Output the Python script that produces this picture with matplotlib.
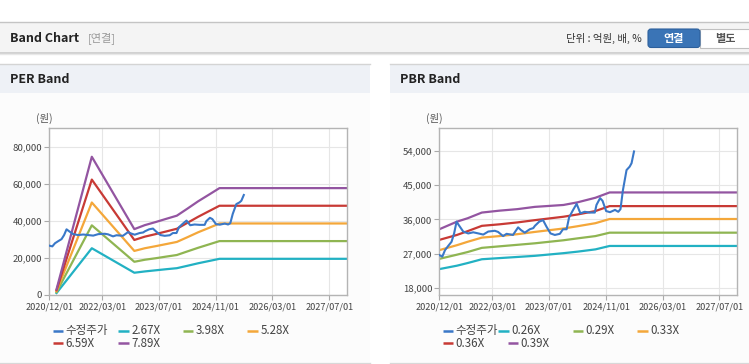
import matplotlib
matplotlib.use("Agg")
import matplotlib.pyplot as plt
import matplotlib.dates as mdates
from matplotlib.patches import Rectangle, FancyBboxPatch
import pandas as pd

plt.rcParams['font.family'] = ['Noto Sans CJK KR', 'DejaVu Sans']

# ------------------- DATA -------------------
# adjusted share price (수정주가), shared by both charts
price_dates = [
    "2020-12-01", "2020-12-27", "2021-01-19", "2021-02-15", "2021-03-16", "2021-04-07",
    "2021-04-28", "2021-05-17", "2021-06-24", "2021-08-06", "2021-09-18", "2021-11-01",
    "2021-12-13", "2022-01-25", "2022-03-22", "2022-04-19", "2022-06-01", "2022-07-01",
    "2022-08-25", "2022-10-08", "2022-11-01", "2022-12-04", "2023-01-16", "2023-02-15",
    "2023-03-01", "2023-04-07", "2023-05-10", "2023-06-08", "2023-07-13", "2023-08-19",
    "2023-10-01", "2023-10-28", "2023-11-28", "2023-12-19", "2024-01-19", "2024-02-22",
    "2024-03-25", "2024-05-01", "2024-06-14", "2024-07-27", "2024-08-10", "2024-09-10",
    "2024-10-01", "2024-11-01", "2024-12-04", "2025-01-16", "2025-02-13", "2025-03-04",
    "2025-03-25", "2025-04-25", "2025-05-22", "2025-06-07", "2025-06-28",
]
price = [
    26600, 26200, 27900, 29000, 30100, 32300,
    35400, 34500, 32800, 32300, 32600, 32300,
    32000, 32800, 33000, 32700, 31600, 32200,
    31900, 33900, 33200, 32500, 33400, 33700,
    34300, 35400, 35800, 34100, 32300, 31900,
    32200, 33400, 33400, 36500, 38300, 40100,
    37600, 38000, 37800, 37800, 39800, 41600,
    40900, 38200, 37900, 38500, 38000, 38700,
    43700, 49000, 49900, 50800, 53900,
]

# PER band lines
per_dates = ["2021-02-01", "2021-12-01", "2022-12-01", "2023-03-01", "2023-06-01", "2023-09-01",
             "2023-12-01", "2024-03-01", "2024-06-01", "2024-09-01", "2024-12-01", "2027-12-01"]
per_267 = [1040, 25200, 12000, 12700, 13300, 13900, 14450, 15750, 17100, 18300, 19500, 19500]
per_398 = [1550, 37550, 17900, 19000, 19800, 20700, 21550, 23500, 25450, 27250, 29050, 29050]
per_528 = [2060, 49850, 23750, 25200, 26300, 27450, 28600, 31150, 33800, 36150, 38550, 38550]
per_659 = [2570, 62200, 29650, 31450, 32800, 34250, 35700, 38900, 42150, 45150, 48100, 48100]
per_789 = [3080, 74500, 35500, 37650, 39300, 41050, 42750, 46550, 50500, 54050, 57600, 57600]
per_labels = ["2.67X", "3.98X", "5.28X", "6.59X", "7.89X"]

# PBR band lines
pbr_dates = ["2020-12-01", "2021-05-01", "2021-08-01", "2021-12-01", "2022-05-01", "2022-10-01",
             "2023-03-01", "2023-11-01", "2024-03-01", "2024-08-01", "2024-12-01", "2027-12-01"]
pbr_026 = [22900, 23800, 24500, 25500, 25800, 26100, 26400, 27100, 27500, 28100, 29000, 29000]
pbr_029 = [25600, 26700, 27400, 28500, 28900, 29300, 29700, 30500, 31000, 31600, 32500, 32500]
pbr_033 = [27900, 29200, 30100, 31200, 31600, 32100, 32700, 33600, 34200, 35000, 36100, 36100]
pbr_036 = [30600, 31900, 32900, 34300, 34700, 35200, 35800, 36700, 37300, 38200, 39500, 39500]
pbr_039 = [33400, 35400, 36300, 37800, 38300, 38700, 39300, 39800, 40500, 41700, 43100, 43100]
pbr_labels = ["0.26X", "0.29X", "0.33X", "0.36X", "0.39X"]

x_ticks = ["2020-12-01", "2022-03-01", "2023-07-01", "2024-11-01", "2026-03-01", "2027-07-01"]
per_yticks = [0, 20000, 40000, 60000, 80000]
pbr_yticks = [18000, 27000, 36000, 45000, 54000]

# ------------------- STYLE -------------------
PRICE_COLOR = "#3a78c8"
BAND_COLORS = ["#22b1c3", "#8fb552", "#f4a73a", "#c83a35", "#9355a1"]
W, H = 749, 364


def ax_rect(left, top, right, bottom):
    return [left / W, 1 - bottom / H, (right - left) / W, (bottom - top) / H]


def draw_band_chart(fig, rect, band_dates, bands, yticks, ylim):
    ax = fig.add_axes(rect)
    ax.plot(pd.to_datetime(price_dates), price, color=PRICE_COLOR, lw=1.5, zorder=3)
    bd = pd.to_datetime(band_dates)
    for vals, c in zip(bands, BAND_COLORS):
        ax.plot(bd, vals, color=c, lw=1.6, zorder=2)

    ax.set_xlim(pd.Timestamp("2020-12-01"), pd.Timestamp("2027-12-01"))
    ax.set_ylim(*ylim)
    ax.set_xticks(pd.to_datetime(x_ticks))
    ax.xaxis.set_major_formatter(mdates.DateFormatter("%Y/%m/%d"))
    ax.set_yticks(yticks)
    ax.set_yticklabels([f"{v:,}" for v in yticks])
    ax.grid(True, color="#e6e6e6", lw=0.8, zorder=0)
    ax.set_axisbelow(True)
    for s in ax.spines.values():
        s.set_color("#b4b4b4")
        s.set_linewidth(1.0)
    ax.tick_params(axis="y", length=3.5, width=0.8, color="#aaaaaa", pad=1.5,
                   labelsize=6.9, labelcolor="#444444")
    ax.tick_params(axis="x", length=3.5, width=0.8, color="#aaaaaa", pad=2,
                   labelsize=6.6, labelcolor="#444444")
    ax.set_facecolor("white")
    return ax


def draw_legend(bg, positions, labels, colors):
    # one entry per (x, y) pixel position
    for (x, y), lab, c in zip(positions, labels, colors):
        bg.plot([x, x + 10.5], [y, y], color=c, lw=1.8, solid_capstyle="butt")
        bg.text(x + 13, y, lab, fontsize=8.3, color="#444444", va="center", ha="left")


fig = plt.figure(figsize=(W / 100, H / 100), dpi=100)

# background layer in pixel coordinates
bg = fig.add_axes([0, 0, 1, 1])
bg.set_xlim(0, W)
bg.set_ylim(H, 0)
bg.axis("off")

# top header bar
bg.add_patch(Rectangle((0, 22), W, 30, fc="#f4f4f4", ec="none"))
bg.plot([0, W], [22, 22], color="#c4c4c4", lw=1)
bg.plot([0, W], [52.5, 52.5], color="#c8c8c8", lw=1.2)
bg.plot([0, W], [53.8, 53.8], color="#e8e8e8", lw=1)
bg.text(10, 38, "Band Chart", fontsize=9, fontweight="bold", color="#222222", va="center")
bg.text(88, 38, "[연결]", fontsize=8, color="#999999", va="center")
bg.text(642, 38, "단위 : 억원, 배, %", fontsize=7.5, color="#333333", va="center", ha="right")
bg.add_patch(Rectangle((700, 29), 52, 18.5, fc="white", ec="#c0c0c0", lw=0.8))
bg.add_patch(FancyBboxPatch((648, 29), 52, 18.5, boxstyle="round,pad=0,rounding_size=3",
                            fc="#3a74b6", ec="#2d609c", lw=0.8))
bg.text(674, 38.3, "연결", fontsize=8, fontweight="bold", color="white", va="center", ha="center")
bg.text(725, 38.3, "별도", fontsize=8, fontweight="bold", color="#555555", va="center", ha="center")

# panels
for x0, x1, title in [(0, 370, "PER Band"), (390, W, "PBR Band")]:
    bg.add_patch(Rectangle((x0, 64), x1 - x0, 29, fc="#eef1f6", ec="none"))
    bg.add_patch(Rectangle((x0, 93), x1 - x0, 269, fc="#fcfcfc", ec="none"))
    bg.plot([x0, x1], [64, 64], color="#d4d4d4", lw=1)
    bg.plot([x0, x1], [362.5, 362.5], color="#d8d8d8", lw=1)
    bg.text(x0 + 10, 79.5, title, fontsize=9, fontweight="bold", color="#222222", va="center")

bg.text(44, 118, "(원)", fontsize=7.5, color="#555555", va="center", ha="center")
bg.text(434, 118, "(원)", fontsize=7.5, color="#555555", va="center", ha="center")

draw_band_chart(fig, ax_rect(49.3, 128, 347, 295),
                per_dates, [per_267, per_398, per_528, per_659, per_789],
                per_yticks, (0, 90000))
draw_band_chart(fig, ax_rect(439.3, 128.3, 737.3, 295.3),
                pbr_dates, [pbr_026, pbr_029, pbr_033, pbr_036, pbr_039],
                pbr_yticks, (16000, 60000))

colors = [PRICE_COLOR] + BAND_COLORS
per_pos = [(52.7, 330.7), (118.3, 330.7), (182.7, 330.7), (247.3, 330.7), (52.7, 343.3), (118.3, 343.3)]
pbr_pos = [(442.7, 330.7), (498.3, 330.7), (572.7, 330.7), (637.3, 330.7), (442.7, 343.3), (507.7, 343.3)]
draw_legend(bg, per_pos, ["수정주가"] + per_labels, colors)
draw_legend(bg, pbr_pos, ["수정주가"] + pbr_labels, colors)

fig.savefig("out.png", dpi=100)
